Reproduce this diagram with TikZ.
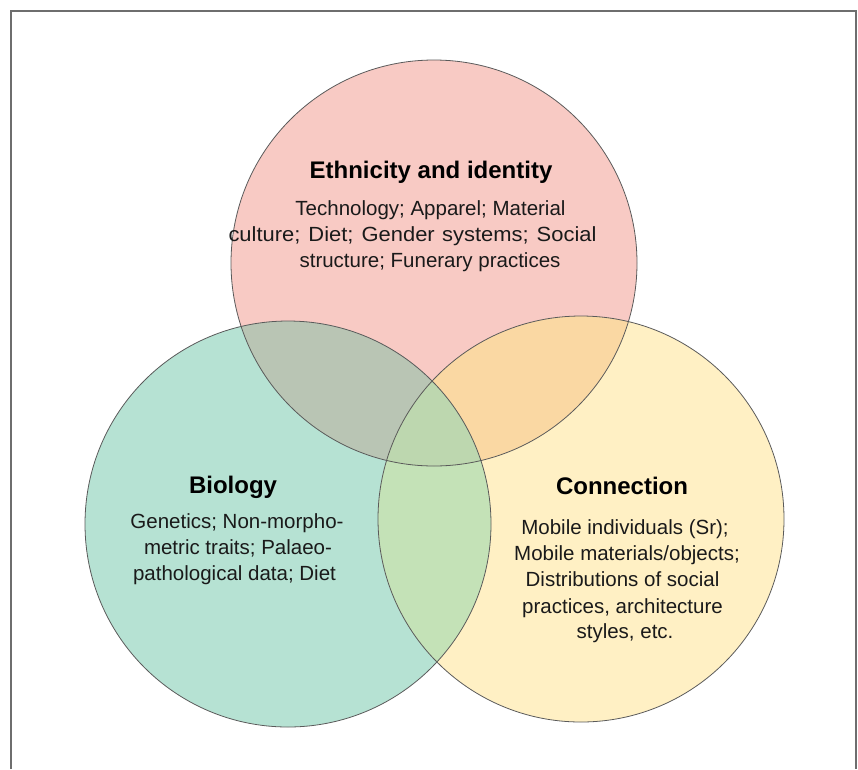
\documentclass[tikz,border=0pt]{standalone}
\usepackage{fontspec}
\setmainfont{Liberation Sans}
\definecolor{cpink}{HTML}{F8CAC4}
\definecolor{cgreen}{HTML}{B6E2D3}
\definecolor{cyellow}{HTML}{FFF0C4}
\definecolor{cpg}{HTML}{B9C5B4}
\definecolor{cpy}{HTML}{FAD8A3}
\definecolor{cgy}{HTML}{C4E2B7}
\definecolor{cpgy}{HTML}{BDD7AF}
\definecolor{cedge}{HTML}{5A5A5A}
\definecolor{cframe}{HTML}{6E6E6E}
\definecolor{ctext}{HTML}{1A1A1A}
\begin{document}
\begin{tikzpicture}[x=1pt,y=-1pt,
  ttl/.style={anchor=base,inner sep=0pt,font=\fontsize{24}{28}\selectfont\bfseries,text=black},
  bod/.style={anchor=base,inner sep=0pt,font=\fontsize{20.5}{25}\selectfont,text=ctext},
  ring/.style={draw=cedge,line width=0.8pt}]
\useasboundingbox (0,0) rectangle (858,769);
% circle centres
\coordinate (cp) at (434,263);
\coordinate (cg) at (288,524);
\coordinate (cy) at (581,519);
\def\R{203}
% fills
\fill[cpink] (cp) circle[radius=\R];
\fill[cgreen] (cg) circle[radius=\R];
\fill[cyellow] (cy) circle[radius=\R];
\begin{scope}
  \clip (cp) circle[radius=\R];
  \fill[cpg] (cg) circle[radius=\R];
  \fill[cpy] (cy) circle[radius=\R];
\end{scope}
\begin{scope}
  \clip (cg) circle[radius=\R];
  \fill[cgy] (cy) circle[radius=\R];
  \clip (cy) circle[radius=\R];
  \fill[cpgy] (cp) circle[radius=\R];
\end{scope}
% outlines
\draw[ring] (cp) circle[radius=\R];
\draw[ring] (cg) circle[radius=\R];
\draw[ring] (cy) circle[radius=\R];
% frame
\draw[cframe,line width=2pt] (11,769) -- (11,11) -- (856,11) -- (856,769);
% Ethnicity
\node[ttl] (et) at (431,178) {Ethnicity and identity};
\node[bod] (e1) at (430.5,215) {Technology; Apparel; Material};
\node[bod] (e2) at (412.5,241) {\addfontfeature{FakeStretch=1.07}\makebox[368pt][s]{culture; Diet; Gender systems; Social}};
\node[bod] (e3) at (430,267) {structure; Funerary practices};
% Biology
\node[ttl] (bt) at (233,493) {Biology};
\node[bod] (b1) at (237,528) {Genetics; Non-morpho-};
\node[bod] (b2) at (238,554) {metric traits; Palaeo-};
\node[bod] (b3) at (234.5,580) {pathological data; Diet};
% Connection
\node[ttl] (ct) at (622,494) {Connection};
\node[bod] (c1) at (625,534) {Mobile individuals (Sr);};
\node[bod] (c2) at (627,560) {Mobile materials/objects;};
\node[bod] (c3) at (622.5,586) {Distributions of social};
\node[bod] (c4) at (622.5,613) {practices, architecture};
\node[bod] (c5) at (625,638) {styles, etc.};
\end{tikzpicture}
\end{document}
